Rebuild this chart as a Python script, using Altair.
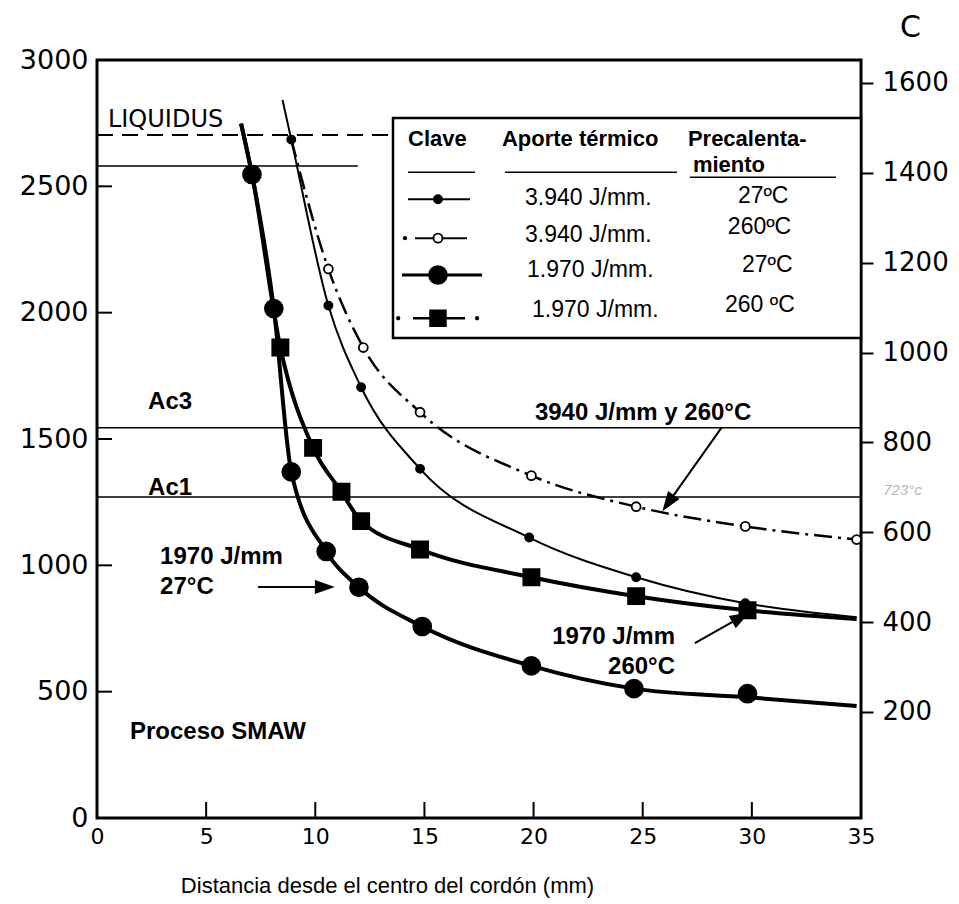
import altair as alt
import pandas as pd

# ---------------- data (x: distance from weld centre, mm; y: peak temperature, °F) ----------------
# 3.940 J/mm, 27 °C  (thin solid line, small filled dots)
s1_line_x = [8.5, 8.9, 10.6, 12.1, 14.8, 19.8, 24.7, 29.7, 34.8]
s1_line_y = [2842, 2685, 2028, 1705, 1382, 1110, 953, 850, 795]
s1_pts_x = [8.9, 10.6, 12.1, 14.8, 19.8, 24.7, 29.7]
s1_pts_y = [2685, 2028, 1705, 1382, 1110, 953, 850]

# 3.940 J/mm, 260 °C (dash-dot line, open circles)
s2_line_x = [8.9, 10.6, 12.2, 14.8, 19.9, 24.7, 29.7, 34.8]
s2_line_y = [2685, 2173, 1862, 1606, 1355, 1232, 1154, 1102]
s2_pts_x = [10.6, 12.2, 14.8, 19.9, 24.7, 29.7, 34.8]
s2_pts_y = [2173, 1862, 1606, 1355, 1232, 1154, 1102]

# 1.970 J/mm, 27 °C  (thick line, big filled circles)
s3_line_x = [6.6, 7.1, 8.1, 8.9, 10.5, 12.0, 14.9, 19.9, 24.6, 29.8, 34.8]
s3_line_y = [2748, 2547, 2016, 1370, 1055, 913, 758, 602, 512, 478, 443]
s3_pts_x = [7.1, 8.1, 8.9, 10.5, 12.0, 14.9, 19.9, 24.6, 29.8]
s3_pts_y = [2547, 2016, 1370, 1055, 913, 758, 602, 512, 492]

# 1.970 J/mm, 260 °C (thick line, filled squares)
s4_line_x = [6.6, 7.1, 8.4, 9.9, 11.2, 12.1, 14.8, 19.9, 24.7, 29.8, 34.8]
s4_line_y = [2748, 2547, 1862, 1465, 1291, 1175, 1063, 953, 878, 822, 788]
s4_pts_x = [8.4, 9.9, 11.2, 12.1, 14.8, 19.9, 24.7, 29.8]
s4_pts_y = [1862, 1465, 1291, 1175, 1063, 953, 878, 822]

x_ticks = [0, 5, 10, 15, 20, 25, 30, 35]
f_ticks = [0, 500, 1000, 1500, 2000, 2500, 3000]
c_ticks = [200, 400, 600, 800, 1000, 1200, 1400, 1600]

# reference temperatures (°F)
liquidus_f = 2703
solidus_f = 2580
ac3_f = 1545
ac1_f = 1270

# ---------------- layout ----------------
W, H = 764, 758
xs = alt.Scale(domain=[0, 35], nice=False, zero=False)
fs = alt.Scale(domain=[0, 3000], nice=False, zero=False)
cs = alt.Scale(domain=[-36, 1651], nice=False, zero=False)
SANS = "Liberation Sans"
AX = "DejaVu Sans"
ARROW = "M0,-1L0.7,1L-0.7,1Z"

x_axis = alt.Axis(
    values=x_ticks, format="d", tickSize=0, domain=False, grid=False, labelPadding=8,
    labelFlush=False, labelFont=AX, labelFontSize=22, labelColor="black",
    title="Distancia desde el centro del cordón (mm)", titleFont=SANS, titleFontSize=22,
    titleFontWeight="normal", titleColor="black", titleX=290, titleY=67,
    titleBaseline="middle", titleAlign="center")
y_axis = alt.Axis(
    values=f_ticks, format="d", tickSize=0, domain=False, grid=False, labelPadding=9,
    labelFlush=False, labelFont=AX, labelFontSize=27, labelFontWeight="normal",
    labelColor="black", title=None)


def X(field="x"):
    return alt.X(f"{field}:Q", scale=xs, axis=x_axis)


def Y(field="y"):
    return alt.Y(f"{field}:Q", scale=fs, axis=y_axis)


def line(xv, yv, width, dash=None):
    kw = dict(color="black", strokeWidth=width, interpolate="monotone")
    if dash:
        kw["strokeDash"] = dash
    return alt.Chart(pd.DataFrame({"x": xv, "y": yv})).mark_line(**kw).encode(x=X(), y=Y())


def pts(xv, yv, shape, size, filled=True, strokeWidth=1.5):
    return alt.Chart(pd.DataFrame({"x": xv, "y": yv})).mark_point(
        shape=shape, size=size, filled=filled, fill="black" if filled else "white",
        stroke="black", strokeWidth=strokeWidth, opacity=1
    ).encode(x=X(), y=Y())


def hrule(x1, x2, y, width=1.5, dash=None):
    kw = dict(color="black", strokeWidth=width)
    if dash:
        kw["strokeDash"] = dash
    return alt.Chart(pd.DataFrame({"x": [x1], "x2": [x2], "y": [y]})).mark_rule(**kw).encode(
        x=X(), x2="x2:Q", y=Y())


def texts(rows, size, weight="normal", align="left", font=SANS, color="black", style="normal"):
    df = pd.DataFrame(rows, columns=["t", "x", "y"])
    return alt.Chart(df).mark_text(
        align=align, baseline="middle", fontSize=size, fontWeight=weight, font=font,
        color=color, fontStyle=style
    ).encode(x=X(), y=Y(), text="t:N")


# inward tick marks
yticks = alt.Chart(pd.DataFrame({"y": f_ticks[1:-1]})).mark_rule(color="black", strokeWidth=2).encode(
    y=Y(), x=alt.value(0), x2=alt.value(15))
xticks = alt.Chart(pd.DataFrame({"x": x_ticks[1:-1]})).mark_rule(color="black", strokeWidth=2).encode(
    x=X(), y=alt.value(H), y2=alt.value(H - 16))

refs = [
    hrule(0, 13.56, liquidus_f, 2, dash=[16, 9]),
    hrule(0, 11.95, solidus_f, 1.5),
    hrule(0, 35, ac3_f, 1.5),
    hrule(0, 35, ac1_f, 1.5),
]

curves = [
    line(s3_line_x, s3_line_y, 4),
    line(s4_line_x, s4_line_y, 4),
    line(s1_line_x, s1_line_y, 2),
    line(s2_line_x, s2_line_y, 2.5, dash=[18, 6, 3, 6]),
    pts(s3_pts_x, s3_pts_y, "circle", 330),
    pts(s4_pts_x, s4_pts_y, "square", 270),
    pts(s1_pts_x, s1_pts_y, "circle", 70),
    pts(s2_pts_x, s2_pts_y, "circle", 80, filled=False, strokeWidth=1.8),
]

# legend box
box = alt.Chart(pd.DataFrame({"x": [13.56], "x2": [35], "y": [2770], "y2": [1900]})).mark_rect(
    fill="white", stroke="black", strokeWidth=2.5).encode(x=X(), x2="x2:Q", y=Y(), y2="y2:Q")

legend_head = texts([
    ["Clave", 14.25, 2687],
    ["Aporte térmico", 18.55, 2687],
    ["Precalenta-", 27.07, 2687],
    ["miento", 27.3, 2584],
], 22, weight="bold")

legend_body = texts([
    ["3.940 J/mm.", 19.61, 2453], ["27ºC", 29.36, 2461],
    ["3.940 J/mm.", 19.61, 2307], ["260ºC", 28.9, 2340],
    ["1.970 J/mm.", 19.7, 2168], ["27ºC", 29.55, 2188],
    ["1.970 J/mm.", 19.93, 2010], ["260 ºC", 28.77, 2030],
], 23)

legend_lines = [
    hrule(14.25, 17.32, 2556, 1.5), hrule(18.69, 26.57, 2556, 1.5), hrule(27.16, 33.85, 2536, 1.5),
    hrule(14.25, 17.09, 2449, 2),
    hrule(14.57, 16.95, 2295, 2),
    hrule(13.97, 17.64, 2149, 3),
    hrule(14.48, 16.86, 1978, 2.5),
    pts([15.62], [2449], "circle", 70),
    pts([14.11], [2295], "circle", 8),
    pts([15.62], [2295], "circle", 80, filled=False, strokeWidth=1.8),
    pts([15.62], [2149], "circle", 330),
    pts([13.8, 17.41], [1978, 1978], "circle", 8),
    pts([15.62], [1978], "square", 256),
]

# annotations
ann_bold = texts([
    ["Ac3", 2.34, 1646],
    ["Ac1", 2.34, 1306],
    ["1970 J/mm", 2.89, 1033],
    ["27°C", 2.89, 914],
    ["3940 J/mm y  260°C", 20.06, 1603],
    ["Proceso SMAW", 1.51, 340],
], 24, weight="bold")
ann_right = texts([
    ["1970 J/mm", 26.48, 716],
    ["260°C", 26.48, 598],
], 24, weight="bold", align="right")
ann_liq = texts([["LIQUIDUS", 0.5, 2762]], 24, font=AX)
ann_note = texts([["723°c", 36.9, 1298]], 15, color="#b8b8b8", style="italic", align="center")

arrow_lines = alt.Chart(pd.DataFrame({
    "x": [7.38, 28.63, 27.39], "x2": [10.12, 26.16, 29.5],
    "y": [914, 1547, 692], "y2": [914, 1246, 795]})).mark_rule(color="black", strokeWidth=2).encode(
    x=X(), x2="x2:Q", y=Y(), y2="y2:Q")
arrow_heads = alt.Chart(pd.DataFrame({
    "x": [10.44, 26.16, 29.5], "y": [914, 1246, 795], "a": [90, 215, 60]})).mark_point(
    shape=ARROW, size=400, filled=True, color="black", opacity=1).encode(
    x=X(), y=Y(), angle=alt.Angle("a:Q", scale=None))

f_layer = alt.layer(*refs, *curves, box, *legend_lines, legend_head, legend_body,
                    ann_bold, ann_right, ann_liq, ann_note, arrow_lines, arrow_heads,
                    yticks, xticks)

c_layer = alt.Chart(pd.DataFrame({"c": c_ticks})).mark_point(opacity=0).encode(
    y=alt.Y("c:Q", scale=cs, axis=alt.Axis(
        orient="right", values=c_ticks, format="d", tickSize=12, tickWidth=2, tickColor="black",
        domain=False, grid=False, labelPadding=9, labelFlush=False, labelFont=AX,
        labelFontSize=26, labelColor="black", title="C", titleAngle=0, titleX=49, titleY=-33,
        titleFont=AX, titleFontSize=30, titleFontWeight="normal", titleColor="black",
        titleAlign="center", titleBaseline="middle")),
    x=alt.value(W),
)

chart = alt.layer(f_layer, c_layer).resolve_scale(y="independent").properties(
    width=W, height=H,
    padding={"left": 89, "top": 52, "right": 90, "bottom": 82},
    autosize=alt.AutoSizeParams(type="none"),
    background="white",
).configure_view(stroke="black", strokeWidth=3)

chart.save("out.html", embed_options={"renderer": "svg", "actions": False})
